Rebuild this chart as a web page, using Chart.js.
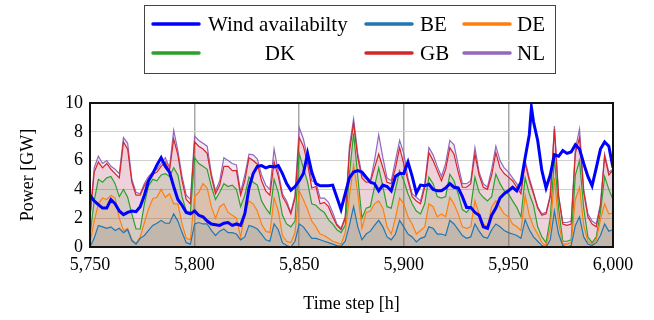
<!DOCTYPE html>
<html>
<head>
<meta charset="utf-8">
<script src="https://cdn.jsdelivr.net/npm/chart.js@4.4.1/dist/chart.umd.min.js"></script>
<style>
  html, body { margin: 0; padding: 0; background: #fff; }
</style>
</head>
<body>
<canvas id="wind-chart" width="654" height="320"></canvas>
<script>
// time steps of the stacked generation series
const hours = [
  5750, 5752, 5754, 5756, 5758, 5760, 5762, 5764, 5766, 5768,
  5770, 5772, 5774, 5776, 5778, 5780, 5782, 5784, 5786, 5788,
  5790, 5792, 5794, 5796, 5798, 5800, 5802, 5804, 5806, 5808,
  5810, 5812, 5814, 5816, 5818, 5820, 5822, 5824, 5826, 5828,
  5830, 5832, 5834, 5836, 5838, 5840, 5842, 5844, 5846, 5848,
  5850, 5852, 5854, 5856, 5858, 5860, 5862, 5864, 5866, 5868,
  5870, 5872, 5874, 5876, 5878, 5880, 5882, 5884, 5886, 5888,
  5890, 5892, 5894, 5896, 5898, 5900, 5902, 5904, 5906, 5908,
  5910, 5912, 5914, 5916, 5918, 5920, 5922, 5924, 5926, 5928,
  5930, 5932, 5934, 5936, 5938, 5940, 5942, 5944, 5946, 5948,
  5950, 5952, 5954, 5956, 5958, 5960, 5962, 5964, 5966, 5968,
  5970, 5972, 5974, 5976, 5978, 5980, 5982, 5984, 5986, 5988,
  5990, 5992, 5994, 5996, 5998, 6000
];

const beValues = [
  0.0, 0.6, 1.5, 1.4, 1.3, 1.4, 1.15, 1.3, 1.0, 1.2,
  0.45, 0.2, 0.6, 0.8, 1.15, 1.5, 1.65, 1.85, 1.65, 1.65,
  2.3, 1.8, 1.0, 0.3, 0.2, 1.6, 1.7, 1.6, 1.6, 1.15,
  0.8, 1.1, 1.25, 1.0, 1.0, 0.9, 0.5, 0.7, 1.5, 1.4,
  1.25, 0.9, 0.5, 0.4, 1.6, 1.2, 0.3, 0.1, 0.0, 0.4,
  1.6, 1.4, 1.0, 0.6, 0.6, 0.5, 0.4, 0.3, 0.2, 0.1,
  0.05, 0.4, 1.5, 2.8, 1.4, 0.5, 0.9, 1.1, 1.5, 1.85,
  1.4, 0.7, 0.5, 0.9, 1.85, 1.4, 0.9, 0.7, 0.35, 0.6,
  0.7, 1.4, 1.3, 0.9, 0.9, 0.8, 1.85, 1.6, 1.2, 0.8,
  0.6, 0.7, 1.6, 1.1, 0.7, 0.6, 1.2, 1.6, 1.4, 1.15,
  1.0, 0.9, 0.8, 0.6, 1.9, 1.2, 0.7, 0.4, 0.1, 0.0,
  0.5, 2.5, 0.9, 0.1, 0.0, 0.1, 1.5, 2.1, 0.7, 0.2,
  0.1, 0.3, 0.8, 1.6, 1.1, 1.2
];

const deValues = [
  0.3, 1.2, 1.5, 2.0, 2.0, 2.2, 2.25, 0.7, 0.15, 0.1,
  0.05, 0.05, 0.1, 0.9, 1.5, 1.85, 1.8, 2.15, 1.8, 2.05,
  0.7, 1.2, 0.6, 0.3, 0.3, 1.9, 2.1, 2.8, 2.5, 1.65,
  1.2, 1.7, 1.75, 1.4, 1.2, 1.1, 0.2, 1.6, 1.7, 1.6,
  1.25, 0.7, 0.6, 0.6, 1.8, 1.3, 0.5, 0.3, 0.3, 0.6,
  2.3, 1.9, 1.6, 1.2, 0.8, 0.4, 0.4, 0.3, 0.2, 0.2,
  0.15, 0.6, 2.0, 2.9, 2.35, 0.8, 1.5, 1.4, 1.5, 1.35,
  1.3, 0.7, 0.4, 1.1, 1.55, 1.6, 1.2, 0.9, 0.55, 0.55,
  0.7, 1.6, 1.5, 1.2, 1.4, 1.3, 1.6, 1.4, 1.1, 0.6,
  0.7, 0.7, 1.6, 1.2, 0.9, 0.8, 1.6, 1.6, 1.35, 1.15,
  1.1, 0.7, 0.6, 0.55, 1.7, 1.0, 0.7, 0.5, 0.2, 0.1,
  0.8, 2.3, 0.8, 0.1, 0.2, 0.2, 1.8, 2.05, 0.8, 0.2,
  0.1, 0.2, 1.1, 1.4, 1.2, 1.15
];

const dkValues = [
  0.5, 1.4, 1.7, 1.1, 1.5, 1.3, 1.0, 1.5, 2.85, 2.15,
  1.8, 1.0, 0.55, 1.3, 1.6, 1.35, 1.15, 1.0, 1.65, 1.2,
  2.5, 2.0, 1.9, 1.9, 1.9, 2.7, 2.0, 1.2, 1.3, 1.4,
  1.3, 1.0, 1.4, 1.8, 2.1, 2.0, 2.1, 1.3, 1.65, 1.5,
  1.8, 1.6, 1.6, 1.3, 1.3, 1.3, 1.4, 1.2, 1.1, 0.8,
  2.6, 2.2, 1.9, 1.2, 1.5, 1.7, 1.6, 1.3, 1.2, 0.9,
  0.8, 0.5, 1.5, 2.2, 1.15, 0.7, 0.3, 0.3, 1.2, 2.3,
  1.5, 1.4, 1.8, 2.0, 1.9, 1.6, 1.6, 1.4, 1.6, 1.15,
  1.6, 1.85, 1.6, 1.4, 1.1, 1.4, 1.6, 1.6, 1.4, 1.2,
  1.1, 1.35, 1.65, 1.5, 1.85, 1.8, 0.7, 1.87, 1.65, 1.6,
  1.6, 1.6, 1.35, 0.95, 1.2, 1.5, 1.5, 0.5, 0.4, 0.2,
  0.7, 1.4, 1.0, 0.2, 0.2, 0.2, 1.7, 1.85, 1.2, 0.3,
  0.1, 0.2, 0.5, 1.9, 1.7, 0.95
];

const gbValues = [
  1.2, 2.0, 1.2, 1.0, 1.0, 0.5, 0.7, 1.3, 3.3, 3.35,
  2.2, 2.35, 2.35, 1.25, 0.45, 0.35, 0.6, 0.6, 0.8, 0.4,
  2.0, 1.4, 1.1, 0.8, 0.6, 1.1, 1.2, 1.2, 1.1, 0.7,
  0.4, 0.5, 1.2, 1.4, 1.0, 1.3, 0.8, 1.0, 1.35, 1.5,
  1.45, 1.4, 1.2, 1.3, 1.2, 1.1, 1.3, 1.4, 0.9, 1.6,
  1.1, 1.5, 1.3, 1.1, 1.3, 0.4, 0.7, 0.9, 0.5, 0.3,
  0.2, 0.5, 1.6, 0.7, 1.3, 2.8, 1.8, 1.7, 1.3, 0.95,
  1.3, 1.7, 1.7, 1.5, 1.6, 1.15, 0.9, 0.5, 0.7, 0.7,
  1.15, 1.7, 1.6, 1.8, 1.2, 1.9, 1.85, 1.85, 1.5, 1.55,
  1.75, 1.65, 1.6, 1.2, 0.7, 0.8, 1.5, 1.48, 1.1, 1.2,
  1.15, 1.4, 1.4, 1.6, 1.0, 0.9, 0.8, 1.3, 1.5, 2.0,
  1.5, 2.0, 0.8, 1.2, 1.1, 1.1, 1.5, 1.6, 1.1, 1.4,
  1.3, 0.7, 0.4, 1.4, 1.0, 2.05
];

const nlValues = [
  0.1, 0.3, 0.4, 0.3, 0.2, 0.2, 0.3, 0.3, 0.3, 0.4,
  0.2, 0.2, 0.1, 0.15, 0.2, 0.15, 0.2, 0.2, 0.3, 0.2,
  0.6, 0.3, 0.3, 0.3, 0.3, 0.4, 0.4, 0.4, 0.5, 0.2,
  0.2, 0.3, 0.6, 0.4, 0.5, 0.4, 0.2, 0.4, 0.25, 0.4,
  0.35, 0.4, 0.4, 0.4, 0.9, 0.3, 0.2, 0.2, 0.1, 0.2,
  0.7, 0.5, 0.4, 0.5, 0.3, 0.4, 0.3, 0.3, 0.3, 0.1,
  0.1, 0.1, 0.4, 0.3, 0.3, 0.2, 0.2, 0.1, 0.5, 1.35,
  0.7, 0.3, 0.2, 0.5, 0.5, 0.75, 0.2, 0.2, 0.25, 0.2,
  0.25, 0.35, 0.4, 0.3, 0.3, 0.4, 0.5, 0.65, 0.5, 0.25,
  0.25, 0.2, 0.45, 0.2, 0.25, 0.15, 0.4, 0.45, 0.5, 0.4,
  0.35, 0.2, 0.25, 0.2, 0.2, 0.2, 0.1, 0.1, 0.1, 0.1,
  0.1, 0.2, 0.1, 0.1, 0.2, 0.2, 0.3, 0.6, 0.2, 0.2,
  0.2, 0.2, 0.2, 0.15, 0.2, 0.05
];

// wind availability has one extra sample at its peak
const windHours = [
  5750, 5752, 5754, 5756, 5758, 5760, 5762, 5764, 5766, 5768,
  5770, 5772, 5774, 5776, 5778, 5780, 5782, 5784, 5786, 5788,
  5790, 5792, 5794, 5796, 5798, 5800, 5802, 5804, 5806, 5808,
  5810, 5812, 5814, 5816, 5818, 5820, 5822, 5824, 5826, 5828,
  5830, 5832, 5834, 5836, 5838, 5840, 5842, 5844, 5846, 5848,
  5850, 5852, 5854, 5856, 5858, 5860, 5862, 5864, 5866, 5868,
  5870, 5872, 5874, 5876, 5878, 5880, 5882, 5884, 5886, 5888,
  5890, 5892, 5894, 5896, 5898, 5900, 5902, 5904, 5906, 5908,
  5910, 5912, 5914, 5916, 5918, 5920, 5922, 5924, 5926, 5928,
  5930, 5932, 5934, 5936, 5938, 5940, 5942, 5944, 5946, 5948,
  5950, 5952, 5954, 5956, 5958, 5960, 5961, 5962, 5964, 5966, 5968,
  5970, 5972, 5974, 5976, 5978, 5980, 5982, 5984, 5986, 5988,
  5990, 5992, 5994, 5996, 5998, 6000
];

const windValues = [
  3.6, 3.2, 2.95, 2.7, 2.7, 3.3, 3.0, 2.5, 2.25, 2.4,
  2.5, 2.45, 2.8, 3.6, 4.6, 5.1, 5.7, 6.2, 5.6, 5.2,
  4.2, 3.3, 2.9, 2.4, 2.3, 2.5, 2.2, 2.1, 1.8, 1.6,
  1.55, 1.5, 1.65, 1.7, 1.5, 1.6, 1.5, 2.3, 4.1, 5.1,
  5.6, 5.65, 5.5, 5.6, 5.55, 5.65, 5.1, 4.4, 3.95, 4.2,
  4.6, 5.1, 6.5, 5.2, 4.4, 4.25, 4.25, 4.25, 4.3, 3.45,
  2.6, 3.7, 4.8, 5.2, 5.3, 5.2, 4.85, 4.5, 4.4, 3.9,
  4.3, 4.2, 3.9, 4.9, 5.1, 5.1, 5.9, 4.9, 3.75, 4.3,
  4.25, 4.35, 4.0, 3.9, 3.9, 4.1, 4.4, 4.15, 4.1, 3.5,
  2.75, 2.75, 2.4, 2.2, 1.4, 1.3, 2.2, 2.7, 3.4, 3.7,
  3.9, 4.15, 3.9, 4.5, 6.2, 7.8, 9.7, 8.7, 7.4, 5.3, 4.1,
  5.0, 6.4, 6.3, 6.7, 6.5, 6.6, 7.1, 6.8, 5.8, 4.9,
  4.25, 5.5, 6.8, 7.3, 7.0, 5.5
];

const xTicks = [5750, 5800, 5850, 5900, 5950, 6000];
const yTicks = [0, 2, 4, 6, 8, 10];

const serif = '"Liberation Serif", "Times New Roman", serif';

function pairs(xs, ys) {
    return xs.map((x, i) => ({ x: x, y: ys[i] }));
}

function areaSet(label, color, fillColor, values) {
    return {
        label: label,
        data: pairs(hours, values),
        borderColor: color,
        backgroundColor: fillColor,
        borderWidth: 1.2,
        pointRadius: 0,
        fill: 'origin',
        stack: 'gen',
        tension: 0
    };
}

// Legend box drawn by hand (pgfplots style, 3 columns)
const legendItems = [
    { text: 'Wind availabilty', color: '#0000ff', lx: 153, tx: 208, y: 24, align: 'left' },
    { text: 'BE', color: '#1f77b4', lx: 366, tx: 420, y: 24, align: 'left' },
    { text: 'DE', color: '#ff7f0e', lx: 464, tx: 517, y: 24, align: 'left' },
    { text: 'DK', color: '#2ca02c', lx: 153, tx: 280, y: 53, align: 'center' },
    { text: 'GB', color: '#d62728', lx: 366, tx: 420, y: 53, align: 'left' },
    { text: 'NL', color: '#9467bd', lx: 464, tx: 517, y: 53, align: 'left' }
];

const boxLegend = {
    id: 'boxLegend',
    afterDraw(chart) {
        const ctx = chart.ctx;
        ctx.save();
        ctx.strokeStyle = '#444';
        ctx.lineWidth = 1;
        ctx.strokeRect(144.5, 5.5, 411, 68);
        ctx.font = '21px ' + serif;
        ctx.textBaseline = 'middle';
        ctx.fillStyle = '#000';
        legendItems.forEach(item => {
            ctx.beginPath();
            ctx.lineCap = 'round';
            ctx.lineWidth = 3.5;
            ctx.strokeStyle = item.color;
            ctx.moveTo(item.lx, item.y);
            ctx.lineTo(item.lx + 46, item.y);
            ctx.stroke();
            ctx.textAlign = item.align;
            ctx.fillText(item.text, item.tx, item.y + 1);
        });
        ctx.restore();
    }
};

// black frame round the plot area
const plotFrame = {
    id: 'plotFrame',
    afterDatasetsDraw(chart) {
        const a = chart.chartArea;
        const ctx = chart.ctx;
        ctx.save();
        ctx.strokeStyle = '#111';
        ctx.lineWidth = 2;
        ctx.strokeRect(a.left, a.top, a.right - a.left, a.bottom - a.top);
        ctx.restore();
    }
};

const config = {
    type: 'line',
    data: {
        datasets: [
            {
                label: 'Wind availabilty',
                data: pairs(windHours, windValues),
                borderColor: '#0000ff',
                borderWidth: 3,
                pointRadius: 0,
                fill: false,
                stack: 'wind',
                tension: 0
            },
            areaSet('BE', '#1f77b4', 'rgba(31, 119, 180, 0.13)', beValues),
            areaSet('DE', '#ff7f0e', 'rgba(255, 127, 14, 0.13)', deValues),
            areaSet('DK', '#2ca02c', 'rgba(44, 160, 44, 0.13)', dkValues),
            areaSet('GB', '#d62728', 'rgba(214, 39, 40, 0.13)', gbValues),
            areaSet('NL', '#9467bd', 'rgba(148, 103, 189, 0.13)', nlValues)
        ]
    },
    options: {
        responsive: false,
        animation: false,
        devicePixelRatio: 1,
        layout: { padding: { top: 103, right: 41, left: 0, bottom: 0 } },
        plugins: {
            legend: { display: false },
            tooltip: { enabled: false }
        },
        scales: {
            x: {
                type: 'linear',
                min: 5750,
                max: 6000,
                afterFit: scale => { scale.height = 73; },
                afterBuildTicks: scale => { scale.ticks = xTicks.map(v => ({ value: v })); },
                ticks: {
                    padding: 7,
                    color: '#000',
                    font: { family: serif, size: 18 },
                    callback: v => v.toLocaleString('en-US')
                },
                grid: { color: '#a8a8a8', lineWidth: 1.5, drawTicks: false },
                border: { display: false },
                title: {
                    display: true,
                    text: 'Time step [h]',
                    color: '#000',
                    font: { family: serif, size: 18 },
                    padding: { top: 0, bottom: 5 }
                }
            },
            y: {
                stacked: true,
                min: 0,
                max: 10,
                afterFit: scale => { scale.width = 90; },
                afterBuildTicks: scale => { scale.ticks = yTicks.map(v => ({ value: v })); },
                ticks: {
                    padding: 7,
                    color: '#000',
                    font: { family: serif, size: 18 }
                },
                grid: { color: '#cfcfcf', lineWidth: 1, drawTicks: false },
                border: { display: false },
                title: {
                    display: true,
                    text: 'Power [GW]',
                    color: '#000',
                    font: { family: serif, size: 18 },
                    padding: { top: 17, bottom: 0 }
                }
            }
        }
    },
    plugins: [boxLegend, plotFrame]
};

const ctx = document.getElementById('wind-chart').getContext('2d');
new Chart(ctx, config);
</script>
</body>
</html>
